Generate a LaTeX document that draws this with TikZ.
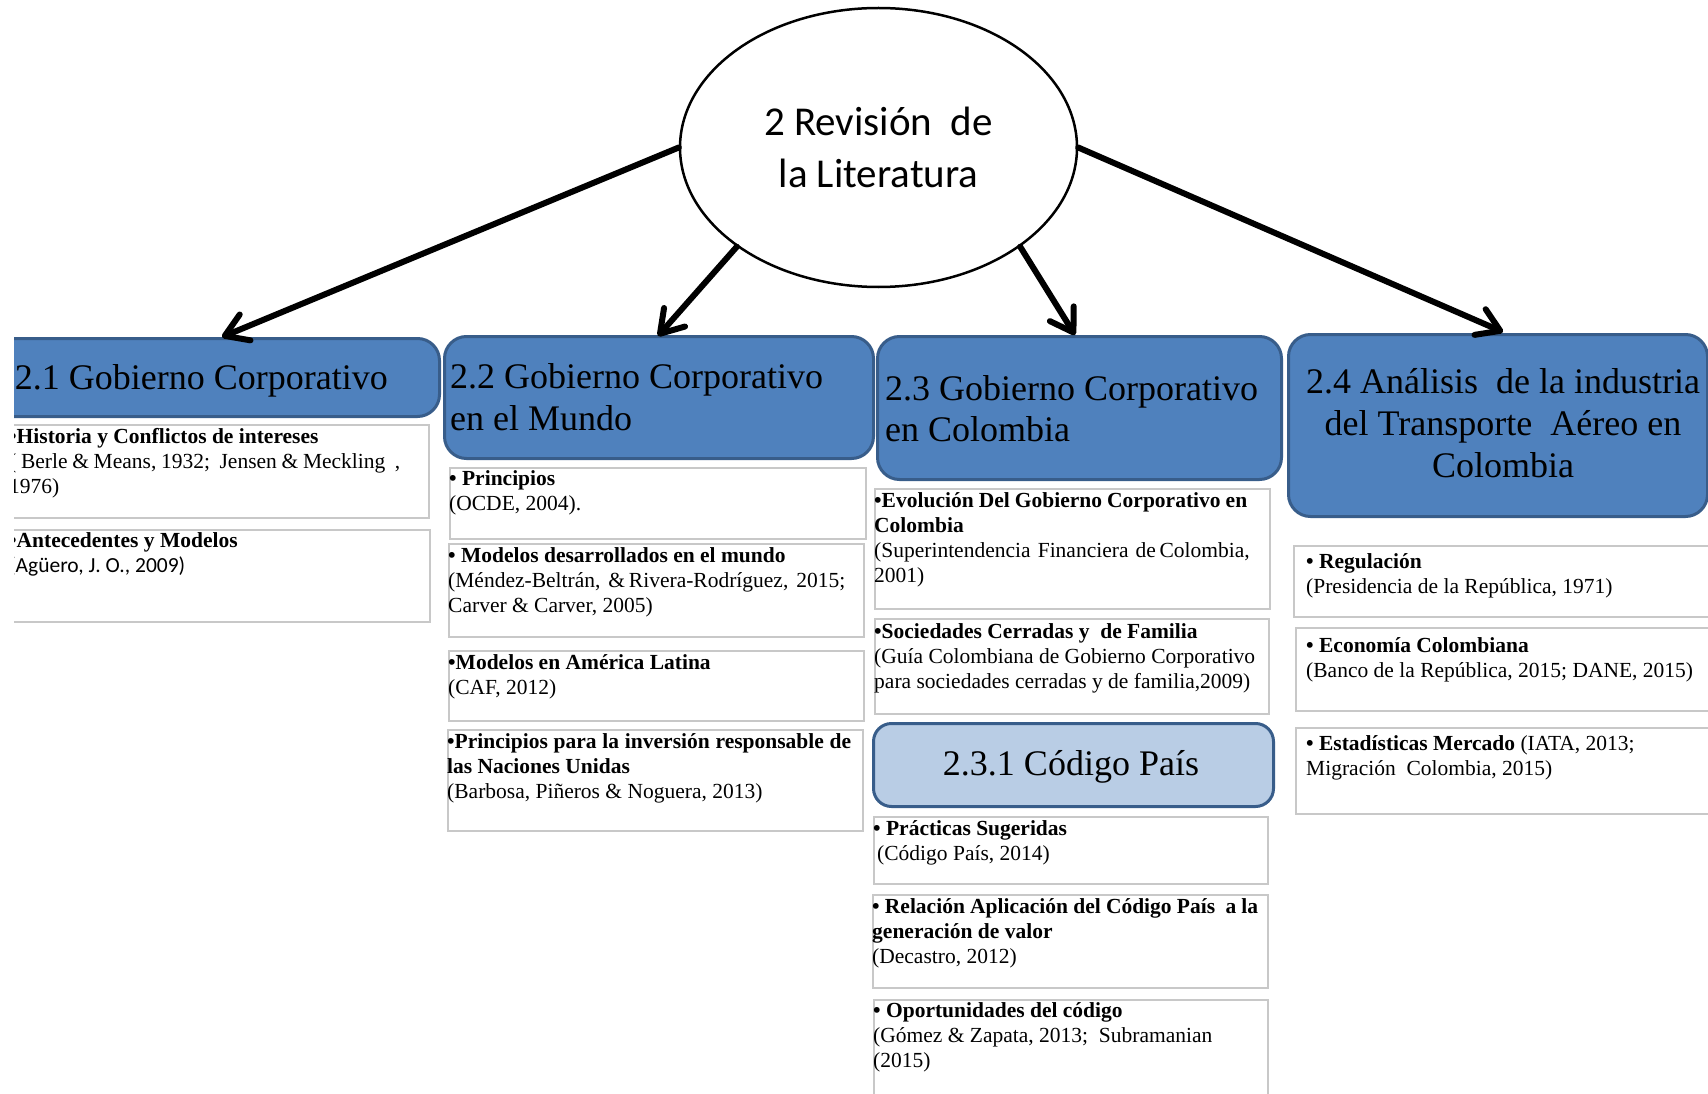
\documentclass[tikz,border=0pt]{standalone}
\usepackage{fontspec}
\setmainfont{Liberation Serif}
\newfontfamily\calib{Carlito}
\usetikzlibrary{shapes.geometric,arrows.meta}
\definecolor{hdrblue}{HTML}{4F81BD}
\definecolor{hdrline}{HTML}{385D8A}
\definecolor{subblue}{HTML}{B9CDE5}
\definecolor{boxgray}{HTML}{C8C8C8}
\newcommand\rl{\rule{0pt}{17pt}}
\newcommand\hrl{\rule{0pt}{34pt}}
\tikzset{
  hdr/.style={draw=hdrline, fill=hdrblue, line width=3pt, rounded corners=22pt, anchor=north west, inner sep=0pt},
  subhdr/.style={draw=hdrline, fill=subblue, line width=3pt, rounded corners=18pt, anchor=north west, inner sep=0pt},
  item/.style={draw=boxgray, fill=white, line width=1.8pt, anchor=north west, inner sep=0pt},
  bt/.style={anchor=north west, inner sep=0pt, align=left, font=\fontsize{21.5}{25}\selectfont},
  ht/.style={inner sep=0pt, font=\fontsize{36}{42}\selectfont},
  conn/.style={line width=6pt, line cap=round, -{Straight Barb[length=22pt,width=28pt,round]}}
}
\begin{document}
\begin{tikzpicture}[x=1pt,y=-1pt]
\useasboundingbox (0,0) rectangle (1708,1094);
\fill[white] (0,0) rectangle (1708,1094);
\clip (14,0) rectangle (1708,1094);

% central ellipse
\node[draw, ellipse, line width=2.5pt, minimum width=397pt, minimum height=279pt, inner sep=0pt,
      align=center, font=\calib\fontsize{41}{52}\selectfont] (el) at (878.5,147.5)
      {2 Revisión\ \ de\\la Literatura};

% header boxes
\node[hdr, minimum width=458pt, minimum height=78pt] (h21) at (-20,337) {};
\node[hdr, minimum width=429pt, minimum height=122pt] (h22) at (443,335) {};
\node[hdr, minimum width=404pt, minimum height=143pt] (h23) at (876,335) {};
\node[hdr, minimum width=419pt, minimum height=182pt] (h24) at (1287,333) {};
\node[subhdr, minimum width=400pt, minimum height=83pt] (h231) at (872,722) {};

% header texts
\node[ht, anchor=base east] (t21) at (388,389) {2.1 Gobierno Corporativo};
\node[ht, anchor=north west, align=left] (t22) at (450,354) {\hrl 2.2 Gobierno Corporativo\\en el Mundo};
\node[ht, anchor=north west, align=left, font=\fontsize{36}{41}\selectfont] (t23) at (885,366) {\hrl 2.3 Gobierno Corporativo\\en Colombia};
\node[ht, anchor=north, align=center] (t24) at (1503,359) {\hrl 2.4 Análisis\ \ de la industria\\del Transporte\ \ Aéreo en\\Colombia};
\node[ht, anchor=base, font=\fontsize{36}{42}\selectfont] (t231) at (1071,775) {2.3.1 Código País};

% item boxes
\node[item, minimum width=448pt, minimum height=93pt] (a1) at (-20,424) {};
\node[item, minimum width=449pt, minimum height=92pt] (a2) at (-20,529) {};
\node[item, minimum width=416pt, minimum height=71pt] (b1) at (449,467) {};
\node[item, minimum width=415pt, minimum height=93pt] (b2) at (448,543) {};
\node[item, minimum width=415pt, minimum height=70pt] (b3) at (448,650) {};
\node[item, minimum width=415pt, minimum height=101pt] (b4) at (447,729) {};
\node[item, minimum width=395pt, minimum height=120pt] (c1) at (874,488) {};
\node[item, minimum width=394pt, minimum height=95pt] (c2) at (874,618) {};
\node[item, minimum width=394pt, minimum height=67pt] (c3) at (873,816) {};
\node[item, minimum width=395pt, minimum height=93pt] (c4) at (872,894) {};
\node[item, minimum width=394pt, minimum height=121pt] (c5) at (873,999) {};
\node[item, minimum width=437pt, minimum height=71pt] (d1) at (1293,545) {};
\node[item, minimum width=435pt, minimum height=83pt] (d2) at (1295,627) {};
\node[item, minimum width=435pt, minimum height=86pt] (d3) at (1295,727) {};

% item texts
\node[bt] (a1t) at (9,426) {\rl\textbf{•Historia y Conflictos de intereses}\\\makebox[391pt][s]{( Berle \& Means, 1932;\ \ Jensen \& Meckling\ \ ,}\\1976)};
\node[bt] (a2t) at (9,530) {\rl\textbf{•Antecedentes y Modelos}\\{\calib (Agüero, J. O., 2009)}};
\node[bt] (b1t) at (449,468) {\rl\textbf{• Principios}\\(OCDE, 2004).};
\node[bt] (b2t) at (448,545) {\rl\textbf{• Modelos desarrollados en el mundo}\\\makebox[397pt][s]{(Méndez-Beltrán,\ \ \& Rivera-Rodríguez,\ \ 2015;}\\Carver \& Carver, 2005)};
\node[bt] (b3t) at (448,652) {\rl\textbf{•Modelos en América Latina}\\(CAF, 2012)};
\node[bt] (b4t) at (447,731) {\rl\makebox[404pt][s]{\bfseries •Principios para la inversión responsable de}\\\textbf{las Naciones Unidas}\\(Barbosa, Piñeros \& Noguera, 2013)};
\node[bt] (c1t) at (874,490) {\rl\makebox[373pt][s]{\bfseries •Evolución Del Gobierno Corporativo en}\\\textbf{Colombia}\\\makebox[372pt][s]{(Superintendencia\ \ Financiera\ \ de Colombia,}\\2001)};
\node[bt] (c2t) at (874,621) {\rl\textbf{•Sociedades Cerradas y\ \ de Familia}\\\makebox[381pt][s]{(Guía Colombiana de Gobierno Corporativo}\\para sociedades cerradas y de familia,2009)};
\node[bt] (c3t) at (873,818) {\rl\textbf{• Prácticas Sugeridas}\\\hspace*{4pt}(Código País, 2014)};
\node[bt] (c4t) at (872,896) {\rl\makebox[386pt][s]{\bfseries • Relación Aplicación del Código País\ \ a la}\\\textbf{generación de valor}\\(Decastro, 2012)};
\node[bt] (c5t) at (873,1000) {\rl\textbf{• Oportunidades del código}\\(Gómez \& Zapata, 2013;\ \ Subramanian\\(2015)};
\node[bt] (d1t) at (1306,551) {\rl\textbf{• Regulación}\\(Presidencia de la República, 1971)};
\node[bt] (d2t) at (1306,635) {\rl\textbf{• Economía Colombiana}\\(Banco de la República, 2015; DANE, 2015)};
\node[bt] (d3t) at (1306,733) {\rl\textbf{• Estadísticas Mercado} (IATA, 2013;\\Migración\ \ Colombia, 2015)};

% connectors
\coordinate (p1) at (222,337);
\coordinate (p2) at (658,336);
\coordinate (p3) at (1075,335);
\coordinate (p4) at (1503,332);
\draw[conn] (el.west) -- (p1);
\draw[conn] (el.215) -- (p2);
\draw[conn] (el.-35) -- (p3);
\draw[conn] (el.east) -- (p4);
\end{tikzpicture}
\end{document}
